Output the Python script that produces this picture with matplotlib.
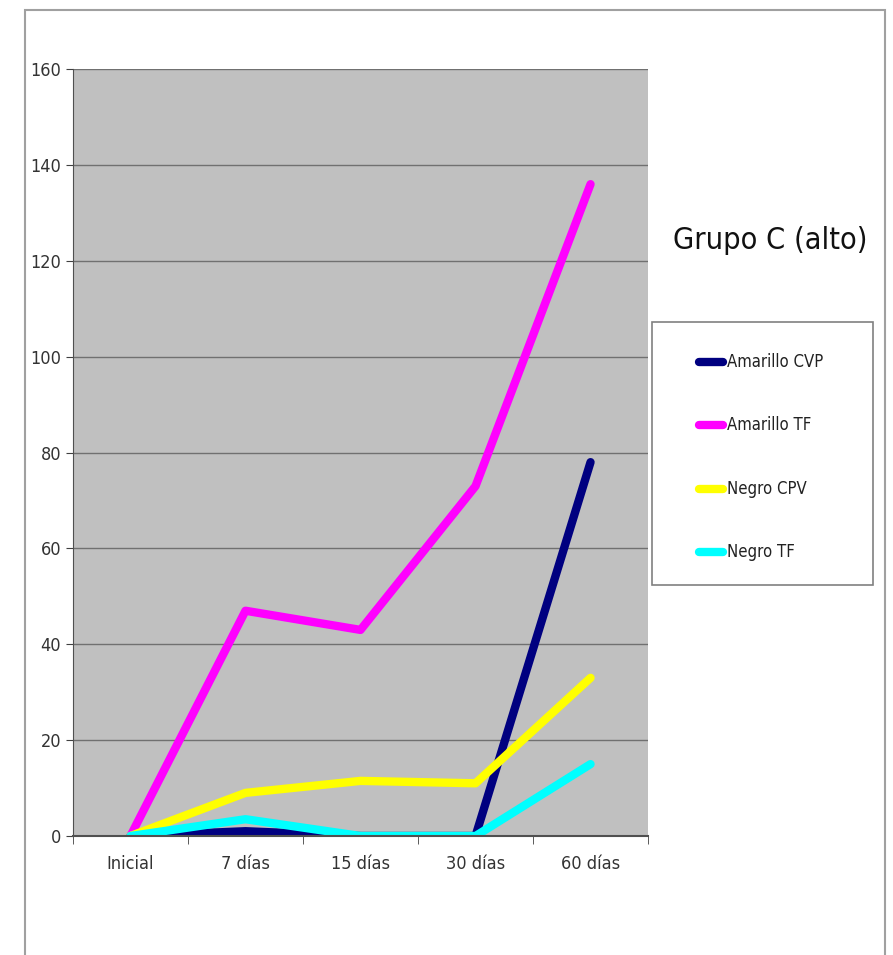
import numpy as np
import matplotlib
matplotlib.use("Agg")
import matplotlib.pyplot as plt
from matplotlib.lines import Line2D
from matplotlib.patches import Rectangle

plt.rcParams['font.family'] = ['DejaVu Sans']
plt.rcParams['font.stretch'] = 'condensed'

# datos del grupo C
periodos = ["Inicial", "7 días", "15 días", "30 días", "60 días"]
amarillo_cvp = [0, 1, 0, 0, 78]
amarillo_tf = [0, 47, 43, 73, 136]
negro_cpv = [0, 9, 11.5, 11, 33]
negro_tf = [0, 3.5, 0, 0, 15]

series = [
    ("Amarillo CVP", amarillo_cvp, "#000080"),
    ("Amarillo TF", amarillo_tf, "#ff00ff"),
    ("Negro CPV", negro_cpv, "#ffff00"),
    ("Negro TF", negro_tf, "#00ffff"),
]

fig = plt.figure(figsize=(8.93, 9.55), dpi=100)
fig.patches.append(Rectangle((0.028, -0.01), 0.963, 0.9995, transform=fig.transFigure,
                             fill=False, edgecolor="#a0a0a0", linewidth=1.5))

ax = fig.add_axes([0.0817, 0.1246, 0.644, 0.803])
ax.set_facecolor("#c0c0c0")

x = np.arange(len(periodos))
for nombre, valores, color in series:
    ax.plot(x, valores, color=color, linewidth=6, label=nombre, solid_capstyle="round")

ax.set_xlim(-0.5, len(periodos) - 0.5)
ax.set_ylim(0, 160)
ax.set_yticks(np.arange(0, 161, 20))
ax.set_xticks(x)
ax.set_xticklabels(periodos)
ax.set_xticks(np.arange(-0.5, len(periodos), 1), minor=True)
ax.tick_params(axis="x", which="major", length=0, pad=14)
ax.tick_params(axis="x", which="minor", length=6, color="#404040")
ax.tick_params(axis="y", length=5, color="#404040")
ax.tick_params(labelsize=13, labelcolor="#333333")
ax.grid(axis="y", color="#707070", linewidth=1)
ax.set_axisbelow(True)
for lado in ["top", "right"]:
    ax.spines[lado].set_visible(False)
ax.spines["left"].set_color("#505050")
ax.spines["bottom"].set_color("#505050")
ax.spines["bottom"].set_linewidth(1.5)

fig.text(0.863, 0.748, "Grupo C (alto)", fontsize=22, ha="center", va="center", color="#111111")

# leyenda dibujada a mano: marco, trazo y texto
fig.patches.append(Rectangle((0.730, 0.387), 0.2475, 0.2755, transform=fig.transFigure,
                             facecolor="white", edgecolor="#808080", linewidth=1.2))
y_leyenda = [0.621, 0.555, 0.488, 0.422]
for (nombre, valores, color), yl in zip(series, y_leyenda):
    fig.lines.append(Line2D([0.783, 0.810], [yl, yl], transform=fig.transFigure,
                            color=color, linewidth=6, solid_capstyle="round"))
    fig.text(0.814, yl, nombre, fontsize=12, va="center", ha="left", color="#222222")

fig.savefig("out.png", dpi=100)
